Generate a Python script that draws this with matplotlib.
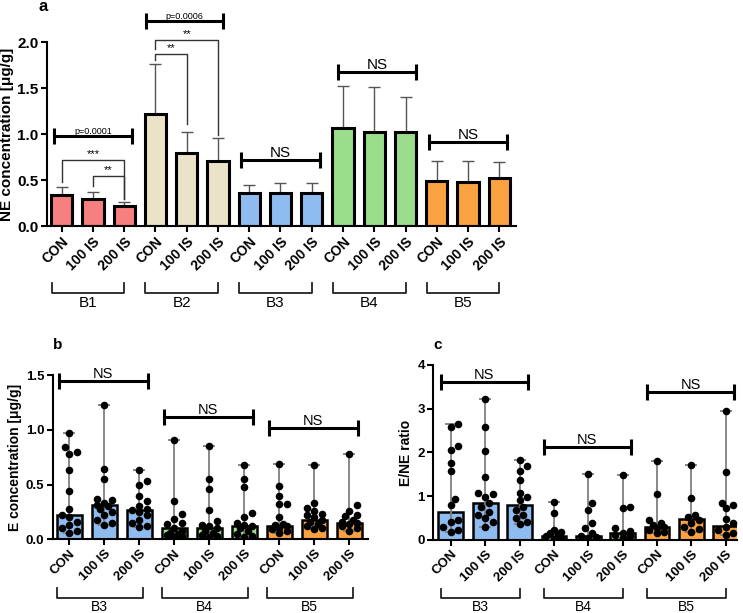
import numpy as np
import matplotlib.pyplot as plt
from matplotlib.transforms import blended_transform_factory

plt.rcParams['font.family'] = ['Liberation Sans', 'DejaVu Sans']

groups_a = ['B1', 'B2', 'B3', 'B4', 'B5']
doses = ['CON', '100 IS', '200 IS']
colors = {'B1': '#F67F7F', 'B2': '#EBE3C8', 'B3': '#8EBCF0',
          'B4': '#9ADE8C', 'B5': '#FAA241'}

# panel a: mean and upper SD end
ne_mean = [0.34, 0.30, 0.22, 1.22, 0.80, 0.71, 0.36, 0.36, 0.36,
           1.07, 1.02, 1.02, 0.49, 0.48, 0.52]
ne_upper = [0.43, 0.37, 0.26, 1.76, 1.02, 0.96, 0.45, 0.47, 0.47,
            1.53, 1.51, 1.40, 0.71, 0.71, 0.70]

groups_bc = ['B3', 'B4', 'B5']

# panel b: E concentration (median bars + individual points)
e_median = [0.22, 0.31, 0.27, 0.10, 0.10, 0.12, 0.12, 0.18, 0.15]
e_points = [
    [0.97, 0.84, 0.80, 0.78, 0.63, 0.44, 0.28, 0.22, 0.20, 0.16, 0.13, 0.10, 0.08, 0.06],
    [1.23, 0.64, 0.55, 0.37, 0.36, 0.33, 0.31, 0.30, 0.28, 0.25, 0.22, 0.18, 0.15, 0.13],
    [0.63, 0.53, 0.50, 0.40, 0.35, 0.30, 0.28, 0.27, 0.25, 0.22, 0.18, 0.15, 0.12, 0.11],
    [0.91, 0.35, 0.23, 0.19, 0.15, 0.14, 0.10, 0.08, 0.06, 0.05, 0.04, 0.03, 0.02],
    [0.85, 0.55, 0.46, 0.27, 0.17, 0.13, 0.12, 0.10, 0.08, 0.06, 0.04, 0.03, 0.02],
    [0.68, 0.55, 0.48, 0.24, 0.20, 0.15, 0.13, 0.12, 0.10, 0.08, 0.05, 0.03, 0.02],
    [0.69, 0.49, 0.40, 0.32, 0.32, 0.20, 0.14, 0.13, 0.12, 0.10, 0.09, 0.08, 0.06],
    [0.68, 0.33, 0.29, 0.26, 0.23, 0.22, 0.20, 0.18, 0.16, 0.14, 0.12, 0.10, 0.09],
    [0.78, 0.31, 0.26, 0.22, 0.21, 0.18, 0.16, 0.15, 0.14, 0.12, 0.10, 0.08],
]

# panel c: E/NE ratio
r_median = [0.65, 0.85, 0.80, 0.09, 0.09, 0.15, 0.29, 0.47, 0.33]
r_points = [
    [2.64, 2.59, 2.15, 2.06, 1.77, 1.58, 0.93, 0.80, 0.46, 0.42, 0.30, 0.23, 0.18],
    [3.22, 2.58, 2.04, 1.45, 1.08, 1.05, 0.99, 0.84, 0.76, 0.65, 0.57, 0.50, 0.42, 0.30],
    [1.83, 1.70, 1.58, 1.37, 1.07, 0.99, 0.91, 0.76, 0.69, 0.57, 0.50, 0.42, 0.37],
    [0.86, 0.61, 0.23, 0.19, 0.15, 0.11, 0.08, 0.04, 0.02],
    [1.51, 0.84, 0.69, 0.38, 0.27, 0.15, 0.09, 0.06, 0.04],
    [1.48, 0.76, 0.72, 0.27, 0.21, 0.17, 0.11, 0.08, 0.04],
    [1.81, 1.05, 0.46, 0.38, 0.34, 0.30, 0.27, 0.23, 0.19, 0.15],
    [1.72, 0.97, 0.57, 0.53, 0.46, 0.38, 0.30, 0.24, 0.19],
    [2.95, 1.55, 0.85, 0.80, 0.72, 0.47, 0.38, 0.30, 0.23, 0.15, 0.11],
]

fig = plt.figure(figsize=(7.43, 6.13), dpi=100)


def style_axis(ax, ymax, ystep, yfmt, fs):
    for s in ['top', 'right']:
        ax.spines[s].set_visible(False)
    for s in ['left', 'bottom']:
        ax.spines[s].set_linewidth(1.5)
    ax.set_ylim(0, ymax)
    ticks = np.arange(0, ymax + 1e-9, ystep)
    ax.set_yticks(ticks)
    ax.set_yticklabels([yfmt.format(v) for v in ticks], fontweight='bold', fontsize=fs)
    ax.tick_params(width=1.5, length=4, pad=2)


def ns_bar(ax, x0, x1, y, text, fs=11, capms=11):
    ax.plot([x0, x1], [y, y], color='black', lw=2.2, clip_on=False, zorder=5)
    ax.plot([x0, x1], [y, y], ls='none', marker='|', ms=capms, mew=2.2,
            color='black', clip_on=False, zorder=5)
    ax.text((x0 + x1) / 2, y, text, ha='center', va='bottom', fontsize=fs,
            clip_on=False)


def group_brackets(ax, centers, names, x_off, ybot, ytop, ylab, fs=10):
    tr = blended_transform_factory(ax.transData, ax.transAxes)
    for c, name in zip(centers, names):
        xa, xb = c[0] - x_off[0], c[-1] + x_off[1]
        ax.plot([xa, xa, xb, xb], [ytop, ybot, ybot, ytop], color='#222222',
                lw=1.3, transform=tr, clip_on=False)
        ax.text((xa + xb) / 2, ylab, name, ha='center', va='center',
                fontsize=fs, transform=tr)


def swarm_offsets(ax, xc, vals, diam_px, max_units=0.3):
    pts = ax.transData.transform([(xc, v) for v in vals])
    ppu = ax.transData.transform((1, 0))[0] - ax.transData.transform((0, 0))[0]
    max_px = max_units * ppu
    steps = [0.0]
    k = 1
    while k * diam_px * 0.5 <= max_px:
        steps += [k * diam_px * 0.5, -k * diam_px * 0.5]
        k += 1
    placed = []
    offs = np.zeros(len(vals))
    for i in np.argsort(vals):
        py = pts[i][1]
        best, best_d = 0.0, -1
        for s in steps:
            d = min([np.hypot(s - ox, py - oy) for ox, oy in placed] + [1e9])
            if d >= diam_px * 0.9:
                best = s
                break
            if d > best_d:
                best, best_d = s, d
        placed.append((best, py))
        offs[i] = best / ppu
    return offs


# ---------------- panel a ----------------
axa = fig.add_axes([0.0628, 0.631, 0.6315, 0.300])
x_a = np.arange(15)
bar_cols = [colors[g] for g in groups_a for _ in doses]
axa.errorbar(x_a, ne_mean, yerr=[np.zeros(15), np.array(ne_upper) - np.array(ne_mean)],
             fmt='none', ecolor='#555555', elinewidth=1, capsize=4, capthick=1, zorder=1)
axa.bar(x_a, ne_mean, width=0.68, color=bar_cols, edgecolor='black', linewidth=2.2, zorder=2)
axa.set_xlim(-0.48, 14.53)
style_axis(axa, 2.0, 0.5, '{:.1f}', 11)
axa.set_xticks(x_a)
axa.set_xticklabels(doses * 5, rotation=45, ha='right', rotation_mode='anchor',
                    fontweight='bold', fontsize=10)
axa.set_ylabel('NE concentration [μg/g]', fontweight='bold', fontsize=11, labelpad=2)

ns_bar(axa, -0.25, 2.25, 0.976, 'p=0.0001', fs=6.5)
ns_bar(axa, 2.69, 5.17, 2.235, 'p=0.0006', fs=6.5)
ns_bar(axa, 5.75, 8.25, 0.716, 'NS', fs=11)
ns_bar(axa, 8.85, 11.35, 1.675, 'NS', fs=11)
ns_bar(axa, 11.75, 14.25, 0.915, 'NS', fs=11)

# thin significance brackets
sig = [(0, 2, 0.716, 0.48, 0.30, '***'),
       (1, 2, 0.546, 0.44, 0.30, '**'),
       (3, 4, 1.873, 1.81, 1.11, '**'),
       (3, 5, 2.025, 1.93, 0.99, '**')]
for xa_, xb_, y, yl, yr, t in sig:
    axa.plot([xa_, xa_, xb_, xb_], [yl, y, y, yr], color='#333333', lw=1,
             clip_on=False, zorder=4)
    axa.text((xa_ + xb_) / 2, y + 0.01, t, ha='center', va='bottom', fontsize=8,
             clip_on=False)

centers_a = [x_a[i * 3:(i + 1) * 3] for i in range(5)]
group_brackets(axa, centers_a, groups_a, (0.32, 0.0), -0.3625, -0.31, -0.415, fs=11)
fig.text(0.058, 0.99, 'a', fontweight='bold', fontsize=12, va='center', ha='center')


# ---------------- panels b and c ----------------
def dot_panel(rect, medians, points, ymax, ystep, yfmt, ylabel, ns_specs,
              xlim, gb_off, gb_y, letter_xy, letter):
    ax = fig.add_axes(rect)
    x = np.arange(9)
    cols = [colors[g] for g in groups_bc for _ in doses]
    ax.bar(x, medians, width=0.72, color=cols, edgecolor='black', linewidth=1.8, zorder=2)
    ax.set_xlim(*xlim)
    style_axis(ax, ymax, ystep, yfmt, 9.5)
    lo = [min(p) for p in points]
    hi = [max(p) for p in points]
    med = np.array(medians)
    ax.errorbar(x, med, yerr=[med - np.array(lo), np.array(hi) - med], fmt='none',
                ecolor='#808080', elinewidth=1.3, capsize=4, capthick=1.3, zorder=3)
    for xi, p in zip(x, points):
        offs = swarm_offsets(ax, xi, p, 7.5)
        ax.scatter(xi + offs, p, s=30, color='black', zorder=4, linewidths=0)
    ax.set_xticks(x)
    ax.set_xticklabels(doses * 3, rotation=45, ha='right', rotation_mode='anchor',
                       fontweight='bold', fontsize=9.5)
    ax.set_ylabel(ylabel, fontweight='bold', fontsize=10, labelpad=3)
    for x0, x1, y in ns_specs:
        ns_bar(ax, x0, x1, y, 'NS', fs=10.5, capms=11)
    centers = [x[i * 3:(i + 1) * 3] for i in range(3)]
    group_brackets(ax, centers, groups_bc, gb_off, gb_y[0], gb_y[1], gb_y[2], fs=10)
    fig.text(letter_xy[0], letter_xy[1], letter, fontweight='bold', fontsize=11,
             va='center', ha='center')
    return ax


dot_panel([0.0709, 0.1202, 0.4244, 0.268], e_median, e_points, 1.5, 0.5, '{:.1f}',
          'E concentration [μg/g]',
          [(-0.3, 2.25, 1.445), (2.7, 5.25, 1.12), (5.7, 8.25, 1.013)],
          (-0.47, 8.54), (0.35, 0.1), (-0.357, -0.296, -0.412), (0.077, 0.437), 'b')

dot_panel([0.5832, 0.1191, 0.4083, 0.2855], r_median, r_points, 4, 1, '{:.0f}',
          'E/NE ratio',
          [(-0.3, 2.25, 3.62), (2.7, 5.25, 2.13), (5.7, 8.25, 3.39)],
          (-0.51, 8.32), (0.28, 0.0), (-0.331, -0.28, -0.383), (0.589, 0.437), 'c')

fig.savefig('out.png', dpi=100, facecolor='white')
